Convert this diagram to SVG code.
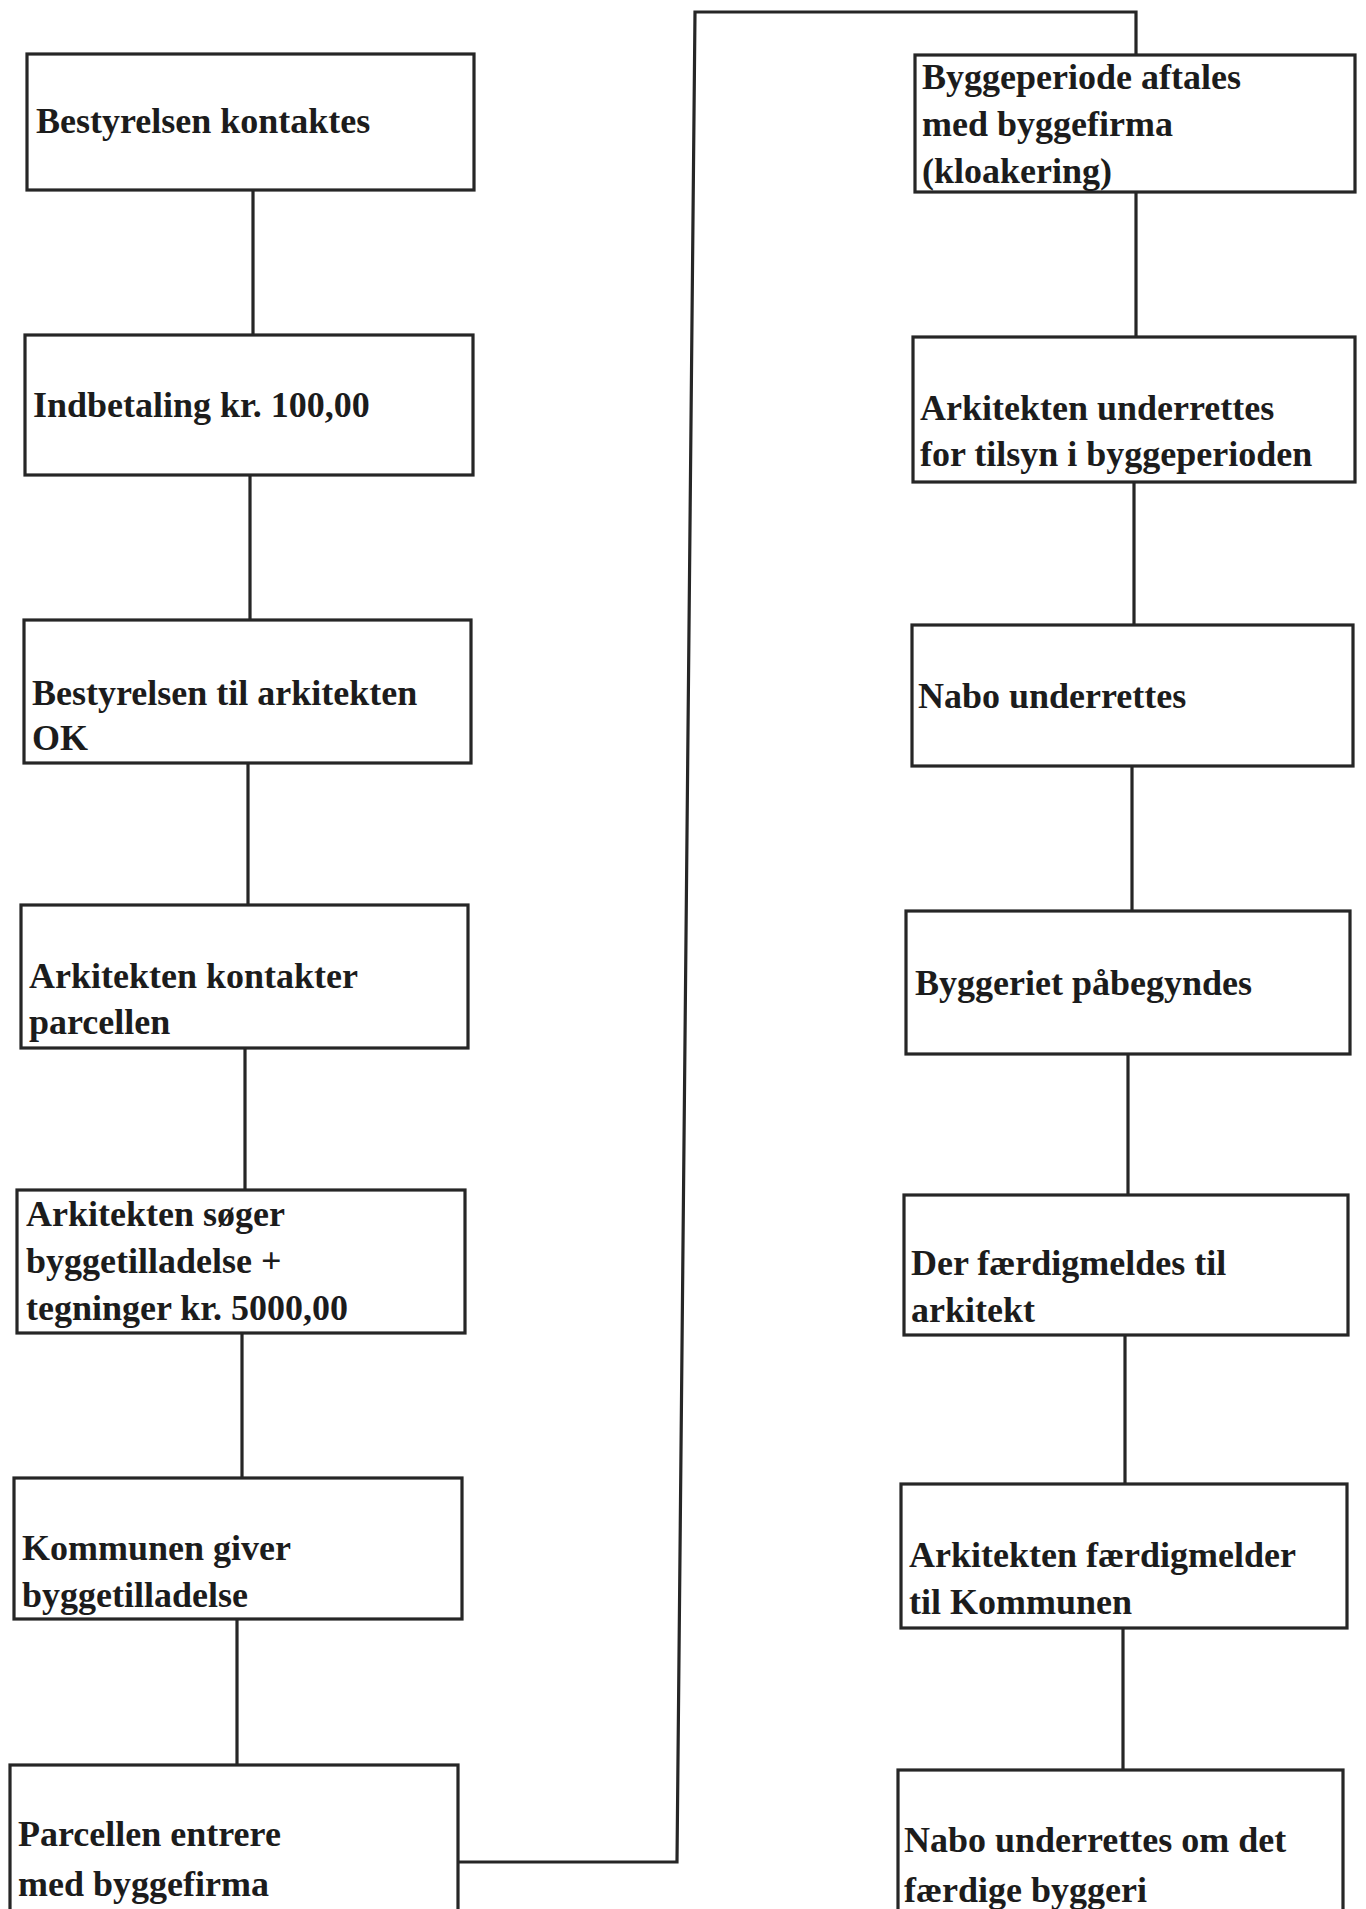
<svg xmlns="http://www.w3.org/2000/svg" width="1366" height="1909" viewBox="0 0 1366 1909">
<style>
.box{fill:#fff;stroke:#262626;stroke-width:3.2}
.t{font-family:"Liberation Serif","Times New Roman",serif;font-weight:bold;font-size:36px;fill:#1c1c1c}
.c{fill:none;stroke:#262626;stroke-width:3.2}
</style>
<rect width="1366" height="1909" fill="#fff"/>
<g id="connectors">
<line class="c" x1="253" y1="190" x2="253" y2="335"/>
<line class="c" x1="250" y1="475" x2="250" y2="620"/>
<line class="c" x1="248" y1="763" x2="248" y2="905"/>
<line class="c" x1="245" y1="1048" x2="245" y2="1190"/>
<line class="c" x1="242" y1="1333" x2="242" y2="1478"/>
<line class="c" x1="237" y1="1619" x2="237" y2="1765"/>
<polyline class="c" points="458,1862 677,1862 695,12 1136,12 1136,55"/>
<line class="c" x1="1136" y1="192" x2="1136" y2="337"/>
<line class="c" x1="1134" y1="482" x2="1134" y2="625"/>
<line class="c" x1="1132" y1="766" x2="1132" y2="911"/>
<line class="c" x1="1128" y1="1054" x2="1128" y2="1195"/>
<line class="c" x1="1125" y1="1335" x2="1125" y2="1484"/>
<line class="c" x1="1123" y1="1628" x2="1123" y2="1770"/>
</g>
<g id="n1"><rect class="box" x="27" y="54" width="447" height="136"/><text class="t" x="36" y="133">Bestyrelsen kontaktes</text></g>
<g id="n2"><rect class="box" x="25" y="335" width="448" height="140"/><text class="t" x="33" y="417">Indbetaling kr. 100,00</text></g>
<g id="n3"><rect class="box" x="24" y="620" width="447" height="143"/><text class="t" x="32" y="705">Bestyrelsen til arkitekten</text><text class="t" x="32" y="750">OK</text></g>
<g id="n4"><rect class="box" x="21" y="905" width="447" height="143"/><text class="t" x="29" y="988">Arkitekten kontakter</text><text class="t" x="29" y="1034">parcellen</text></g>
<g id="n5"><rect class="box" x="17" y="1190" width="448" height="143"/><text class="t" x="26" y="1226">Arkitekten søger</text><text class="t" x="26" y="1273">byggetilladelse +</text><text class="t" x="26" y="1320">tegninger kr. 5000,00</text></g>
<g id="n6"><rect class="box" x="14" y="1478" width="448" height="141"/><text class="t" x="22" y="1560">Kommunen giver</text><text class="t" x="22" y="1607">byggetilladelse</text></g>
<g id="n7"><rect class="box" x="10" y="1765" width="448" height="150"/><text class="t" x="18" y="1846">Parcellen entrere</text><text class="t" x="18" y="1896">med byggefirma</text></g>
<g id="n8"><rect class="box" x="915" y="55" width="440" height="137"/><text class="t" x="922" y="89">Byggeperiode aftales</text><text class="t" x="922" y="136">med byggefirma</text><text class="t" x="922" y="183">(kloakering)</text></g>
<g id="n9"><rect class="box" x="913" y="337" width="442" height="145"/><text class="t" x="920" y="420">Arkitekten underrettes</text><text class="t" x="920" y="466">for tilsyn i byggeperioden</text></g>
<g id="n10"><rect class="box" x="912" y="625" width="441" height="141"/><text class="t" x="918" y="708">Nabo underrettes</text></g>
<g id="n11"><rect class="box" x="906" y="911" width="444" height="143"/><text class="t" x="915" y="995">Byggeriet påbegyndes</text></g>
<g id="n12"><rect class="box" x="904" y="1195" width="444" height="140"/><text class="t" x="911" y="1275">Der færdigmeldes til</text><text class="t" x="911" y="1322">arkitekt</text></g>
<g id="n13"><rect class="box" x="901" y="1484" width="446" height="144"/><text class="t" x="909" y="1567">Arkitekten færdigmelder</text><text class="t" x="909" y="1614">til Kommunen</text></g>
<g id="n14"><rect class="box" x="898" y="1770" width="445" height="145"/><text class="t" x="904" y="1852">Nabo underrettes om det</text><text class="t" x="904" y="1902">færdige byggeri</text></g>
</svg>
